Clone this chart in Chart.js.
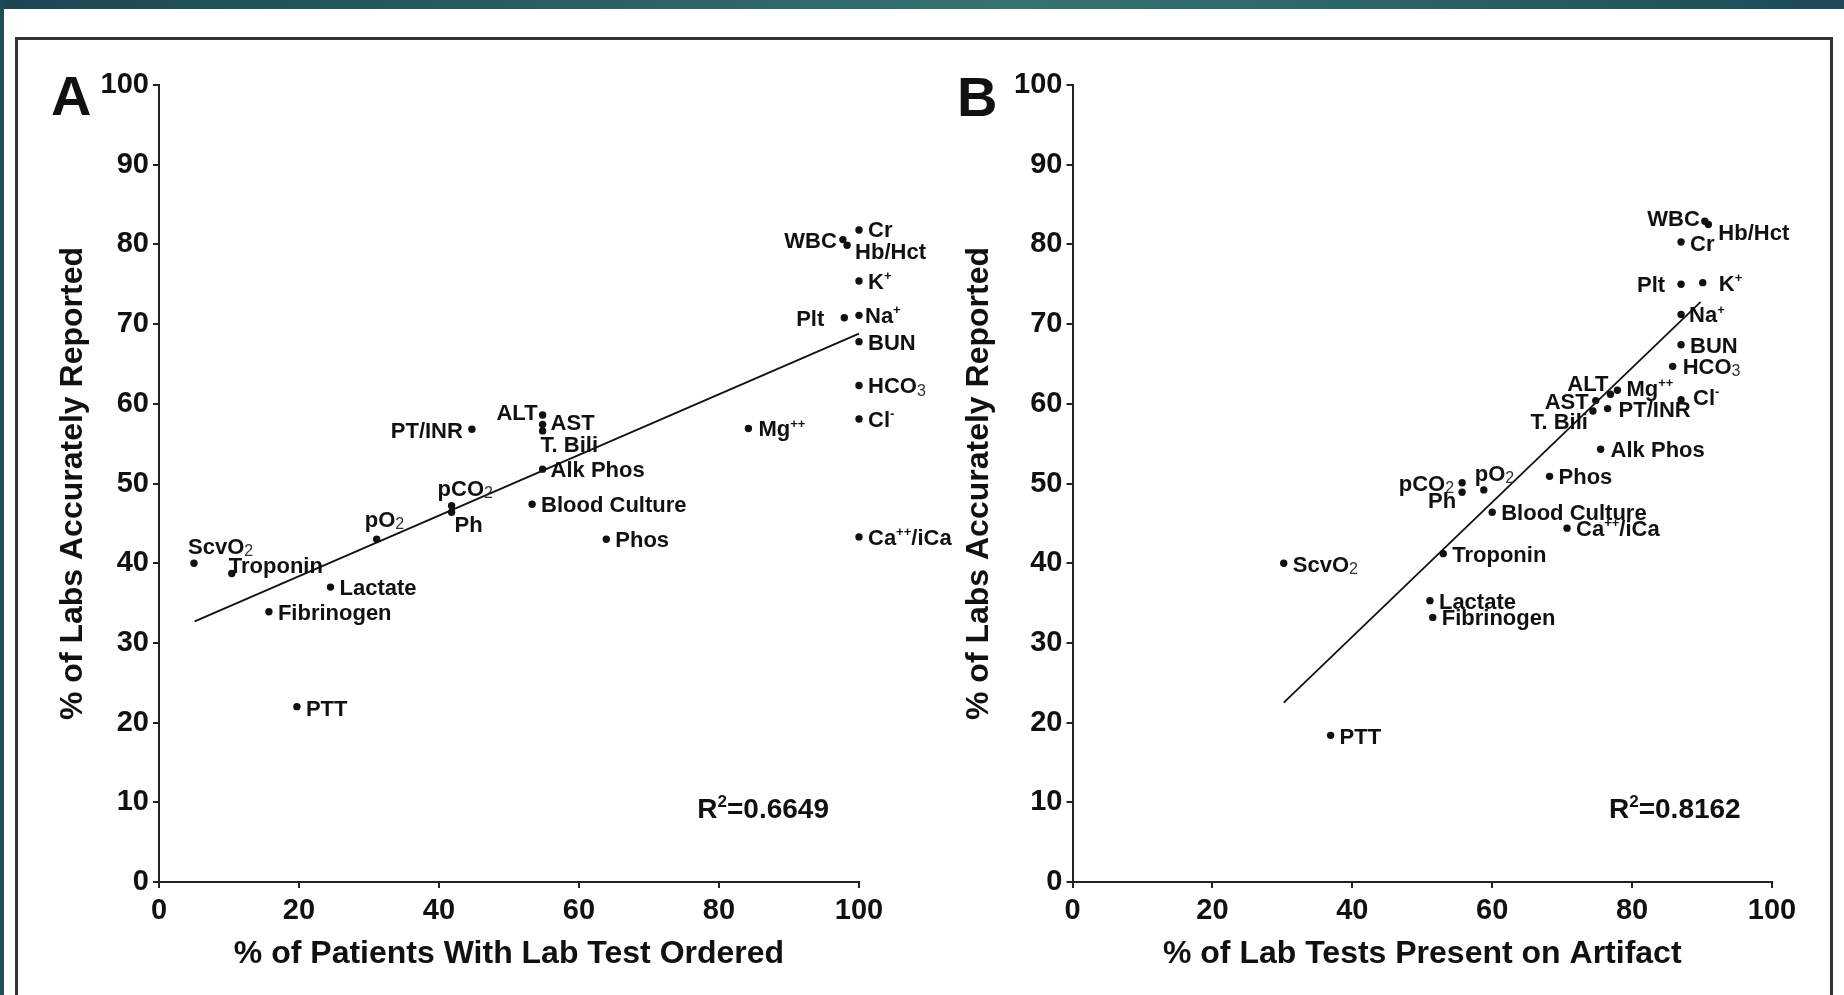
<!DOCTYPE html>
<html>
<head>
<meta charset="utf-8">
<script src="https://cdn.jsdelivr.net/npm/chart.js@4.4.1/dist/chart.umd.min.js"></script>
<style>
  html, body { margin: 0; padding: 0; background: #fff; width: 1844px; height: 995px; overflow: hidden; }
  #topbar { position: absolute; left: 0; top: 0; width: 1844px; height: 9px;
    background: linear-gradient(90deg, #1b4753 0%, #275b61 25%, #37736f 55%, #2d6566 75%, #1c4a57 100%); }
  #leftbar { position: absolute; left: 0; top: 0; width: 4px; height: 995px; background: #1d4b56; }
  #frame { position: absolute; left: 15px; top: 37px; width: 1818px; height: 1000px;
    border: 3px solid #333; box-sizing: border-box; }
  canvas { position: absolute; top: 0; }
  #cA { left: 0; }
  #cB { left: 900px; }
</style>
</head>
<body>
<div id="topbar"></div>
<div id="leftbar"></div>
<div id="frame"></div>
<canvas id="cA" width="980" height="995"></canvas>
<canvas id="cB" width="944" height="995"></canvas>
<script>
// ---- Lab tests (same order in both panels) ----
const labNames = ['ScvO_2', 'Troponin', 'Lactate', 'Fibrinogen', 'PTT', 'pO_2', 'pCO_2', 'Ph',
  'PT/INR', 'ALT', 'AST', 'T. Bili', 'Alk Phos', 'Blood Culture', 'Phos', 'Mg^++',
  'WBC', 'Hb/Hct', 'Cr', 'K^+', 'Na^+', 'Plt', 'BUN', 'HCO_3', 'Cl^-', 'Ca^++/iCa'];

// Panel A: % of patients with lab test ordered vs % of labs accurately reported
const orderedPct = [5.0, 10.4, 24.5, 15.7, 19.7, 31.1, 41.8, 41.8,
  44.7, 54.8, 54.8, 54.8, 54.8, 53.3, 63.9, 84.2,
  97.7, 98.3, 100, 100, 100, 97.9, 100, 100, 100, 100];
const accurateA = [40.0, 38.7, 37.0, 33.9, 22.0, 43.0, 47.2, 46.4,
  56.8, 58.6, 57.4, 56.6, 51.8, 47.4, 43.0, 56.9,
  80.6, 79.9, 81.8, 75.4, 71.1, 70.8, 67.8, 62.3, 58.1, 43.3];
const fitAx = [5.1, 100];
const fitAy = [32.7, 68.8];
const r2A = 'R^2=0.6649';

// Panel B: % of lab tests present on artifact vs % of labs accurately reported
const artifactPct = [30.2, 53.0, 51.1, 51.5, 36.9, 58.8, 55.7, 55.7,
  76.5, 76.9, 74.8, 74.4, 75.5, 60.0, 68.2, 77.9,
  90.4, 90.9, 87.0, 90.1, 87.0, 87.0, 87.0, 85.8, 87.0, 70.7];
const accurateB = [40.0, 41.2, 35.3, 33.2, 18.4, 49.2, 50.1, 48.9,
  59.4, 61.2, 60.4, 59.1, 54.3, 46.4, 50.9, 61.7,
  82.9, 82.5, 80.3, 75.2, 71.2, 75.0, 67.4, 64.7, 60.5, 44.4];
const fitBx = [30.2, 89.8];
const fitBy = [22.5, 72.8];
const r2B = 'R^2=0.8162';

// Axis ticks and titles
const xTickValues = [0, 20, 40, 60, 80, 100];
const yTickValues = [0, 10, 20, 30, 40, 50, 60, 70, 80, 90, 100];
const yTitle = '% of Labs Accurately Reported';
const xTitleA = '% of Patients With Lab Test Ordered';
const xTitleB = '% of Lab Tests Present on Artifact';

// ---- Label placement next to each dot: [dx, dy, align] in pixels ----
const placeA = [
  [-6, -17, 'left'], [-3, -8, 'left'], [9, 0, 'left'], [9, 0, 'left'], [9, 1, 'left'],
  [-12, -20, 'left'], [-14, -18, 'left'], [3, 12, 'left'],
  [-9, 1, 'right'], [-5, -3, 'right'], [8, -2, 'left'], [-2, 13, 'left'], [8, 0, 'left'],
  [9, 0, 'left'], [9, 0, 'left'], [10, 0, 'left'],
  [-6, 0, 'right'], [8, 6, 'left'], [9, -1, 'left'], [9, 0, 'left'], [6, 0, 'left'],
  [-20, 0, 'right'], [9, 0, 'left'], [9, 0, 'left'], [9, 0, 'left'], [9, 0, 'left']
];
const placeB = [
  [9, 1, 'left'], [9, 0, 'left'], [9, 0, 'left'], [9, 0, 'left'], [9, 1, 'left'],
  [-9, -17, 'left'], [-8, 0, 'right'], [-6, 8, 'right'],
  [11, 0, 'left'], [-2, -11, 'right'], [-7, 0, 'right'], [-5, 10, 'right'], [10, 0, 'left'],
  [9, 0, 'left'], [9, 0, 'left'], [9, -2, 'left'],
  [-5, -3, 'right'], [10, 8, 'left'], [9, 1, 'left'], [16, 0, 'left'], [8, 0, 'left'],
  [-16, 0, 'right'], [9, 0, 'left'], [10, 0, 'left'], [12, -3, 'left'], [9, 0, 'left']
];

const FONT = '"Liberation Sans", Arial, Helvetica, sans-serif';
const INK = '#111';
Chart.defaults.font.family = FONT;
Chart.defaults.color = INK;

// Split "pCO_2" / "Ca^++/iCa" into plain, subscript and superscript runs
function parseRich(s) {
  const segs = [];
  let buf = '', i = 0;
  while (i < s.length) {
    const c = s[i];
    if (c === '_' || c === '^') {
      if (buf) { segs.push({ t: buf, k: 'n' }); buf = ''; }
      const re = c === '_' ? /[0-9]/ : /[0-9+\-]/;
      let j = i + 1, run = '';
      while (j < s.length && re.test(s[j])) { run += s[j]; j++; }
      segs.push({ t: run, k: c === '_' ? 'sub' : 'sup' });
      i = j;
    } else { buf += c; i++; }
  }
  if (buf) segs.push({ t: buf, k: 'n' });
  return segs;
}

function segFont(k, size) {
  if (k === 'sub') return `${Math.round(size * 0.72)}px ${FONT}`;
  if (k === 'sup') return `bold ${Math.round(size * 0.6)}px ${FONT}`;
  return `bold ${size}px ${FONT}`;
}

// Draw rich text with its baseline at y; align 'left' or 'right' relative to x
function drawRich(ctx, text, x, y, size, align) {
  const segs = parseRich(text);
  let total = 0;
  segs.forEach(sg => { ctx.font = segFont(sg.k, size); sg.w = ctx.measureText(sg.t).width; total += sg.w; });
  let cx = align === 'right' ? x - total : x;
  ctx.textAlign = 'left';
  ctx.textBaseline = 'alphabetic';
  segs.forEach(sg => {
    ctx.font = segFont(sg.k, size);
    let dy = 0;
    if (sg.k === 'sub') { dy = size * 0.1; ctx.fillStyle = '#333'; }
    else if (sg.k === 'sup') { dy = -size * 0.4; ctx.fillStyle = INK; }
    else ctx.fillStyle = INK;
    ctx.fillText(sg.t, cx, y + dy);
    cx += sg.w;
  });
}

function annotations(names, place, r2Text, r2At, letter, letterAt) {
  return {
    id: 'annotations',
    afterDatasetsDraw(chart) {
      const ctx = chart.ctx;
      const meta = chart.getDatasetMeta(0);
      const size = 22;
      ctx.save();
      meta.data.forEach((pt, i) => {
        const [dx, dy, align] = place[i];
        drawRich(ctx, names[i], pt.x + dx, pt.y + dy + size * 0.36, size, align);
      });
      const xs = chart.scales.x, ys = chart.scales.y;
      drawRich(ctx, r2Text, xs.getPixelForValue(r2At[0]), ys.getPixelForValue(r2At[1]), 28, 'left');
      ctx.font = `bold 56px ${FONT}`;
      ctx.fillStyle = INK;
      ctx.textAlign = 'left';
      ctx.textBaseline = 'alphabetic';
      ctx.fillText(letter, letterAt[0], letterAt[1]);
      ctx.restore();
    }
  };
}

function makePanel(id, xs, ys, fx, fy, cfg) {
  const pts = xs.map((x, i) => ({ x, y: ys[i] }));
  const fit = fx.map((x, i) => ({ x, y: fy[i] }));
  return new Chart(document.getElementById(id), {
    type: 'scatter',
    data: {
      datasets: [
        { data: pts, pointRadius: 3.7, pointBackgroundColor: INK, pointBorderWidth: 0, showLine: false, clip: false },
        { data: fit, showLine: true, borderColor: INK, borderWidth: 1.8, pointRadius: 0, fill: false, clip: false }
      ]
    },
    options: {
      responsive: false,
      animation: false,
      events: [],
      layout: { padding: { top: 85, right: cfg.padRight, bottom: 0, left: 0 } },
      plugins: { legend: { display: false }, tooltip: { enabled: false } },
      scales: {
        x: {
          type: 'linear', min: 0, max: 100,
          afterBuildTicks: s => { s.ticks = xTickValues.map(v => ({ value: v })); },
          afterFit: s => { s.height = 113; },
          border: { color: '#222', width: 2 },
          grid: { drawOnChartArea: false, drawTicks: true, tickLength: 6, color: '#222', lineWidth: 2 },
          ticks: { font: { size: 29, weight: 'bold' }, color: INK, padding: 6, maxRotation: 0, autoSkip: false },
          title: { display: true, text: cfg.xTitle, font: { size: 32, weight: 'bold' }, color: INK,
                   padding: { top: 0, bottom: 22 } }
        },
        y: {
          type: 'linear', min: 0, max: 100,
          afterBuildTicks: s => { s.ticks = yTickValues.map(v => ({ value: v })); },
          afterFit: s => { s.width = cfg.yWidth; },
          border: { color: '#222', width: 2 },
          grid: { drawOnChartArea: false, drawTicks: true, tickLength: 6, color: '#222', lineWidth: 2 },
          ticks: { font: { size: 29, weight: 'bold' }, color: INK, padding: 4, autoSkip: false },
          title: { display: true, text: yTitle, font: { size: 32, weight: 'bold' }, color: INK,
                   padding: { top: cfg.yTitlePad, bottom: 0 } }
        }
      }
    },
    plugins: [annotations(labNames, cfg.place, cfg.r2, cfg.r2At, cfg.letter, cfg.letterAt)]
  });
}

makePanel('cA', orderedPct, accurateA, fitAx, fitAy, {
  padRight: 121, yWidth: 159, yTitlePad: 54, xTitle: xTitleA,
  place: placeA, r2: r2A, r2At: [76.9, 8.0], letter: 'A', letterAt: [51, 115]
});
makePanel('cB', artifactPct, accurateB, fitBx, fitBy, {
  padRight: 72, yWidth: 172.5, yTitlePad: 60, xTitle: xTitleB,
  place: placeB, r2: r2B, r2At: [76.7, 8.0], letter: 'B', letterAt: [57, 116]
});
</script>
</body>
</html>
